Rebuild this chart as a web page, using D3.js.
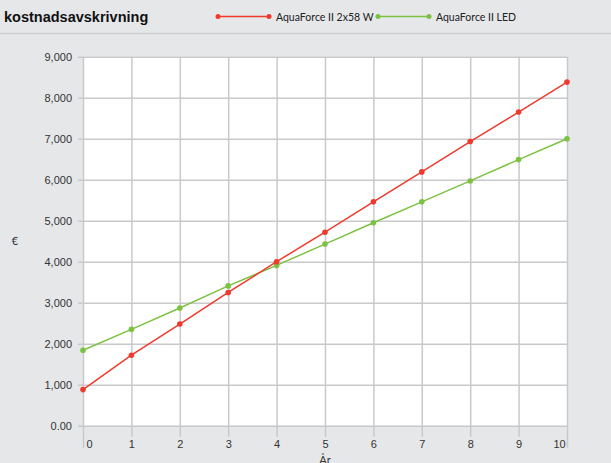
<!DOCTYPE html>
<html>
<head>
<meta charset="utf-8">
<script src="https://cdn.jsdelivr.net/npm/d3@7"></script>
<style>
  body { margin: 0; background: #e6e7e9; }
  svg { display: block; font-family: "Lato", "Open Sans", sans-serif; }
</style>
</head>
<body>
<svg id="chart" width="611" height="463"></svg>
<script>
var years = [0, 1, 2, 3, 4, 5, 6, 7, 8, 9, 10];
var redName = "AquaForce II 2x58 W";
var greenName = "AquaForce II LED";
var redValues = [880, 1720, 2480, 3250, 4000, 4720, 5460, 6190, 6930, 7650, 8380];
var greenValues = [1840, 2350, 2870, 3410, 3910, 4430, 4950, 5460, 5970, 6490, 7000];
var yTicks = [0, 1000, 2000, 3000, 4000, 5000, 6000, 7000, 8000, 9000];

var red = "#ef3a2d";
var green = "#7cc242";
var grid = "#c9c9cb";

var svg = d3.select("#chart");

// header
svg.append("rect").attr("x", 0).attr("y", 0).attr("width", 611).attr("height", 463).attr("fill", "#e6e7e9");
svg.append("line").attr("x1", 0).attr("x2", 611).attr("y1", 33.5).attr("y2", 33.5)
  .attr("stroke", "#cdced0").attr("stroke-width", 1.5);
svg.append("text").attr("x", 4).attr("y", 22)
  .attr("font-family", "Liberation Sans, Arial, sans-serif")
  .attr("font-weight", "bold").attr("font-size", 14.5).attr("fill", "#111")
  .text("kostnadsavskrivning");

var legend = [
  {name: redName, color: red, x: 218},
  {name: greenName, color: green, x: 378}
];
var lg = svg.selectAll(".lg").data(legend).enter().append("g").attr("class", "lg");
lg.append("line").attr("x1", function(d) { return d.x; }).attr("x2", function(d) { return d.x + 51; })
  .attr("y1", 16.5).attr("y2", 16.5).attr("stroke", function(d) { return d.color; }).attr("stroke-width", 1.5);
lg.append("circle").attr("cx", function(d) { return d.x; }).attr("cy", 16.5).attr("r", 2.5).attr("fill", function(d) { return d.color; });
lg.append("circle").attr("cx", function(d) { return d.x + 51; }).attr("cy", 16.5).attr("r", 2.5).attr("fill", function(d) { return d.color; });
lg.append("text").attr("x", function(d) { return d.x + 58; }).attr("y", 20.5)
  .attr("font-size", 10.5).attr("fill", "#222").text(function(d) { return d.name; });

// plot
var pLeft = 83, pRight = 567, pTop = 56.7, pBottom = 425.7;
var x = d3.scaleLinear().domain([0, 10]).range([pLeft, pRight]);
var y = d3.scaleLinear().domain([0, 9000]).range([pBottom, pTop]);

svg.append("rect").attr("x", pLeft).attr("y", pTop).attr("width", pRight - pLeft).attr("height", pBottom - pTop).attr("fill", "#fff");

// horizontal grid with left ticks
var yAxis = d3.axisLeft(y).tickValues(yTicks).tickSize(-(pRight - pLeft)).tickPadding(11)
  .tickFormat(function(d) { return d === 0 ? "0.00" : d3.format(",")(d); });
var gy = svg.append("g").attr("transform", "translate(" + pLeft + ",0)").call(yAxis);
gy.select(".domain").remove();
gy.selectAll(".tick line").attr("stroke", grid).attr("stroke-width", 1.5).attr("x1", -5);
gy.selectAll(".tick text").attr("font-size", 11).attr("fill", "#333").attr("x", -11);

// vertical grid with bottom ticks
var xAxis = d3.axisBottom(x).tickValues(years).tickSize(0).tickFormat(d3.format("d"));
var gx = svg.append("g").attr("transform", "translate(0," + pBottom + ")").call(xAxis);
gx.select(".domain").remove();
gx.selectAll(".tick line").attr("stroke", grid).attr("stroke-width", 1.5)
  .attr("y1", -(pBottom - pTop))
  .attr("y2", function(d) { return (d === 0 || d === 10) ? 22 : 11; });
gx.selectAll(".tick text").attr("font-size", 11).attr("fill", "#333").attr("y", 15)
  .attr("dx", function(d) { return d === 0 ? 6 : (d === 10 ? -8 : 0); });

// axis titles
svg.append("text").attr("x", 15).attr("y", 245).attr("text-anchor", "middle")
  .attr("font-size", 11).attr("fill", "#333").text("€");
svg.append("text").attr("x", 325).attr("y", 464).attr("text-anchor", "middle")
  .attr("font-size", 11).attr("fill", "#333").text("År");

// series
var series = [
  {values: greenValues, color: green},
  {values: redValues, color: red}
];
var line = d3.line().x(function(d, i) { return x(years[i]); }).y(function(d) { return y(d); });
series.forEach(function(s) {
  svg.append("path").datum(s.values).attr("d", line).attr("fill", "none")
    .attr("stroke", s.color).attr("stroke-width", 1.5);
  svg.selectAll(null).data(s.values).enter().append("circle")
    .attr("cx", function(d, i) { return x(years[i]); })
    .attr("cy", function(d) { return y(d); })
    .attr("r", 2.8).attr("fill", s.color);
});
</script>
</body>
</html>
